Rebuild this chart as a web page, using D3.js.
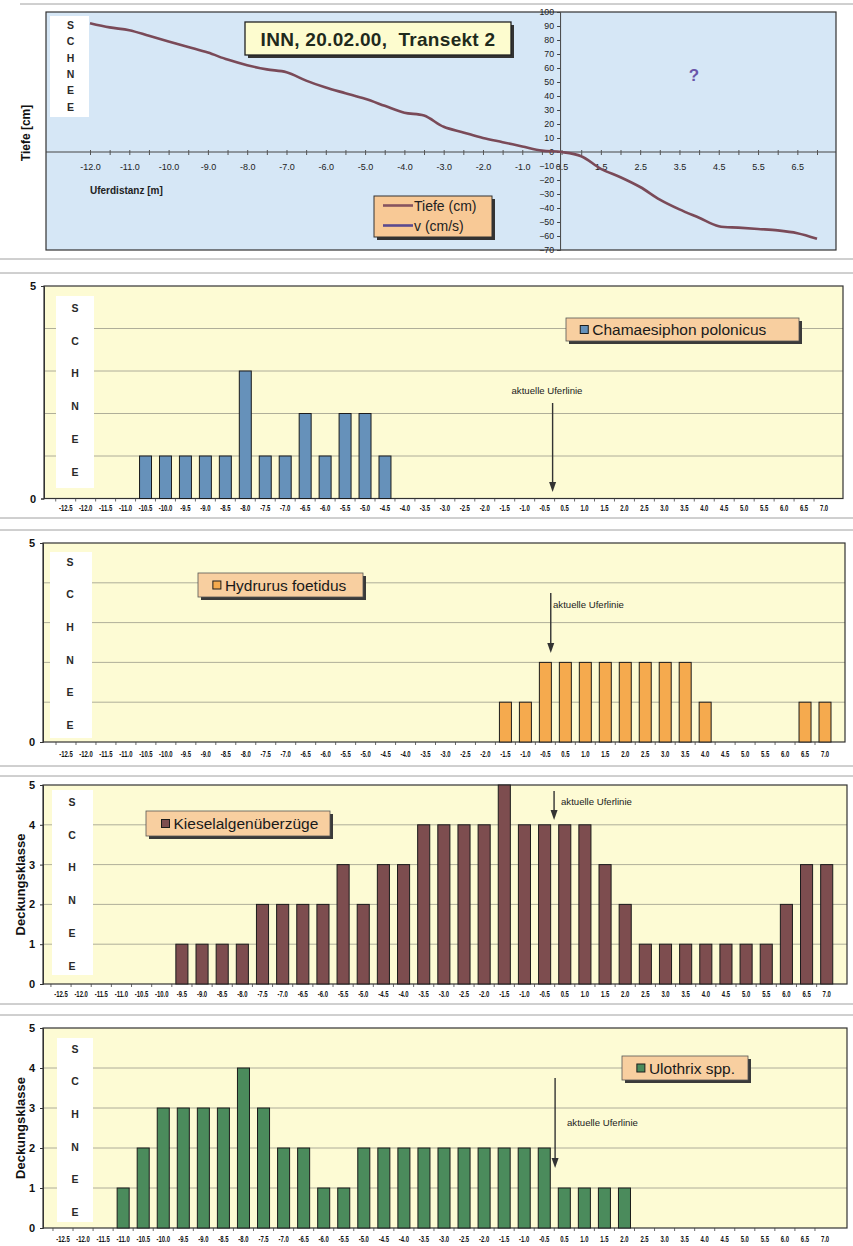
<!DOCTYPE html>
<html>
<head>
<meta charset="utf-8">
<script src="https://cdn.jsdelivr.net/npm/d3@7"></script>
<style>
  body { margin: 0; background: #fff; }
  svg { display: block; }
  text { font-family: "Liberation Sans", Arial, sans-serif; }
</style>
</head>
<body>
<svg id="chart" width="853" height="1246"></svg>
<script>
// ---- Depth profile (Transekt 2, INN 20.02.00) ----
const depthCategories = ["-12.0","-11.5","-11.0","-10.5","-10.0","-9.5","-9.0","-8.5","-8.0","-7.5",
  "-7.0","-6.5","-6.0","-5.5","-5.0","-4.5","-4.0","-3.5","-3.0","-2.5","-2.0","-1.5","-1.0","-0.5",
  "0.5","1.0","1.5","2.0","2.5","3.0","3.5","4.0","4.5","5.0","5.5","6.0","6.5","7.0"];
const depthValues = [92, 89, 87, 83, 79, 75, 71, 66, 62, 59,
  57, 51, 46, 42, 38, 33, 28, 26, 18, 14, 10, 7, 4, 1,
  0, -3, -12, -18, -25, -34, -41, -47, -53, -54, -55, -56, -58, -62];
const depthTickLabels = ["-12.0","-11.0","-10.0","-9.0","-8.0","-7.0","-6.0","-5.0","-4.0","-3.0",
  "-2.0","-1.0","0.5","1.5","2.5","3.5","4.5","5.5","6.5"];
const depthAxisTicks = [100, 90, 80, 70, 60, 50, 40, 30, 20, 10, 0, -10, -20, -30, -40, -50, -60, -70];
const profileSeries = ["Tiefe (cm)", "v (cm/s)"];

// ---- Coverage classes per distance class ----
const distanceClasses = ["-12.5","-12.0","-11.5","-11.0","-10.5","-10.0","-9.5","-9.0","-8.5","-8.0",
  "-7.5","-7.0","-6.5","-6.0","-5.5","-5.0","-4.5","-4.0","-3.5","-3.0","-2.5","-2.0","-1.5","-1.0",
  "-0.5","0.5","1.0","1.5","2.0","2.5","3.0","3.5","4.0","4.5","5.0","5.5","6.0","6.5","7.0"];
const chamaesiphon = [0,0,0,0,1,1,1,1,1,3,1,1,2,1,2,2,1,0,0,0,0,0,0,0,0,0,0,0,0,0,0,0,0,0,0,0,0,0,0];
const hydrurus     = [0,0,0,0,0,0,0,0,0,0,0,0,0,0,0,0,0,0,0,0,0,0,1,1,2,2,2,2,2,2,2,2,1,0,0,0,0,1,1];
const kieselalgen  = [0,0,0,0,0,0,1,1,1,1,2,2,2,2,3,2,3,3,4,4,4,4,5,4,4,4,4,3,2,1,1,1,1,1,1,1,2,3,3];
const ulothrix     = [0,0,0,1,2,3,3,3,3,4,3,2,2,1,1,2,2,2,2,2,2,2,2,2,2,1,1,1,1,0,0,0,0,0,0,0,0,0,0];
const taxa = ["Chamaesiphon polonicus", "Hydrurus foetidus", "Kieselalgenüberzüge", "Ulothrix spp."];
const coverTicksShort = [0, 5];
const coverTicksFull = [0, 1, 2, 3, 4, 5];
const snowLetters = ["S", "C", "H", "N", "E", "E"];

const svg = d3.select("#chart");

// faint borders of the individual chart areas
[[20, 4], [0, 259], [0, 273], [0, 518], [0, 530], [0, 766], [0, 776], [0, 1004], [0, 1015]].forEach(([x0, y]) => {
  svg.append("line").attr("x1", x0).attr("x2", 853).attr("y1", y).attr("y2", y)
    .attr("stroke", "#555").attr("stroke-width", 1).attr("opacity", 0.55);
});

function snowBox(g, box) {
  g.append("rect").attr("x", box.x0).attr("y", box.y0)
    .attr("width", box.x1 - box.x0).attr("height", box.y1 - box.y0).attr("fill", "#fff");
  snowLetters.forEach((l, i) => {
    g.append("text").attr("x", box.cx).attr("y", box.first + i * box.gap)
      .attr("dy", "0.36em").attr("text-anchor", "middle")
      .attr("font-size", 10.5).attr("font-weight", "bold").attr("fill", "#2a2a2a").text(l);
  });
}

// ================= Depth profile =================
(function drawProfile() {
  const P = { left: 46, right: 836, top: 12, bottom: 250 };
  const g = svg.append("g");
  const x = d3.scalePoint().domain(depthCategories).range([90, 817]);
  const y = d3.scaleLinear().domain([-70, 100]).range([P.bottom, P.top]);

  g.append("rect").attr("x", P.left).attr("y", P.top)
    .attr("width", P.right - P.left).attr("height", P.bottom - P.top)
    .attr("fill", "#d6e7f6").attr("stroke", "#333").attr("stroke-width", 1.2);

  snowBox(g, { x0: 50, x1: 89, y0: 16, y1: 117, cx: 70.5, first: 25, gap: 16.4 });

  // zero line (category axis)
  g.append("line").attr("x1", P.left).attr("x2", P.right).attr("y1", y(0)).attr("y2", y(0))
    .attr("stroke", "#444").attr("stroke-width", 1);
  const xAxis = g.append("g").attr("transform", `translate(0,${y(0)})`)
    .call(d3.axisBottom(x).tickValues(depthCategories).tickSize(3)
      .tickFormat(d => depthTickLabels.includes(d) ? d : ""));
  xAxis.select(".domain").remove();
  xAxis.selectAll("line").attr("stroke", "#555").attr("y1", -2);
  xAxis.selectAll("text").attr("y", 12).attr("dy", "0.71em")
    .attr("font-size", 9).attr("fill", "#222").attr("font-family", "Liberation Sans, Arial, sans-serif");

  // value axis sits on the 0.5 category
  const yx = x("0.5") - 1.5;
  const yAxis = g.append("g").attr("transform", `translate(${yx},0)`)
    .call(d3.axisLeft(y).tickValues(depthAxisTicks).tickSize(3).tickPadding(3));
  yAxis.select(".domain").attr("stroke", "#444");
  yAxis.selectAll("line").attr("stroke", "#444");
  yAxis.selectAll("text").attr("font-size", 8.8).attr("fill", "#222")
    .attr("font-family", "Liberation Sans, Arial, sans-serif");

  // depth line
  const line = d3.line().x((d, i) => x(depthCategories[i])).y(d => y(d))
    .curve(d3.curveCatmullRom.alpha(0.5));
  g.append("path").datum(depthValues).attr("d", line)
    .attr("fill", "none").attr("stroke", "#7a4a58").attr("stroke-width", 2.6)
    .attr("stroke-linejoin", "round");

  // titles
  g.append("rect").attr("x", 248).attr("y", 25).attr("width", 266).attr("height", 33).attr("fill", "#333");
  g.append("rect").attr("x", 245).attr("y", 22).attr("width", 266).attr("height", 33)
    .attr("fill", "#fdfccf").attr("stroke", "#222").attr("stroke-width", 1.3);
  g.append("text").attr("x", 378).attr("y", 39).attr("dy", "0.36em").attr("text-anchor", "middle")
    .attr("font-size", 19).attr("font-weight", "bold").attr("fill", "#1f2a1c")
    .attr("letter-spacing", 0.3).style("white-space", "pre")
    .text("INN, 20.02.00,  Transekt 2");

  g.append("text").attr("x", 694).attr("y", 75).attr("dy", "0.36em").attr("text-anchor", "middle")
    .attr("font-size", 17).attr("font-weight", "bold").attr("fill", "#6a55a8").text("?");

  g.append("text").attr("transform", "translate(26,133) rotate(-90)").attr("text-anchor", "middle")
    .attr("dy", "0.36em").attr("font-size", 12).attr("font-weight", "bold").attr("fill", "#111")
    .text("Tiefe [cm]");
  g.append("text").attr("x", 90).attr("y", 190).attr("dy", "0.36em")
    .attr("font-size", 10).attr("font-weight", "bold").attr("fill", "#222").text("Uferdistanz [m]");

  // legend
  const L = { x: 374, y: 196, w: 118, h: 41 };
  g.append("rect").attr("x", L.x + 3).attr("y", L.y + 3).attr("width", L.w).attr("height", L.h).attr("fill", "#333");
  g.append("rect").attr("x", L.x).attr("y", L.y).attr("width", L.w).attr("height", L.h)
    .attr("fill", "#f8c996").attr("stroke", "#333").attr("stroke-width", 1);
  const lineColors = ["#86545f", "#5b4a8f"];
  profileSeries.forEach((s, i) => {
    const cy = L.y + 9.5 + i * 20;
    g.append("line").attr("x1", L.x + 9).attr("x2", L.x + 39).attr("y1", cy).attr("y2", cy)
      .attr("stroke", lineColors[i]).attr("stroke-width", 2.6);
    g.append("text").attr("x", L.x + 40).attr("y", cy).attr("dy", "0.36em")
      .attr("font-size", 14).attr("fill", "#222").text(s);
  });
})();

// ================= Coverage panels =================
const panels = [
  { values: chamaesiphon, name: taxa[0], color: "#6691ba",
    left: 44, right: 843, top: 286, bottom: 498.5, c0: 65.7, cN: 824, labelY: 505,
    ticks: coverTicksShort, yTitle: false,
    snow: { x0: 56, x1: 94, y0: 296, y1: 488, cx: 75, first: 308, gap: 32.8 },
    legend: { x: 566, y: 318, w: 233, h: 23 },
    arrow: { f: 0.4, y1: 403, y2: 492, tx: 547, ty: 391, anchor: "middle" } },
  { values: hydrurus, name: taxa[1], color: "#f5aa4e",
    left: 43, right: 845, top: 543, bottom: 742, c0: 66, cN: 825, labelY: 751,
    ticks: coverTicksShort, yTitle: false,
    snow: { x0: 50, x1: 92, y0: 552, y1: 738, cx: 70, first: 562, gap: 32.6 },
    legend: { x: 198, y: 573, w: 165, h: 24 },
    arrow: { f: 0.27, y1: 593, y2: 653, tx: 553, ty: 605, anchor: "start" } },
  { values: kieselalgen, name: taxa[2], color: "#7d4d4f",
    left: 43, right: 847, top: 785, bottom: 984, c0: 61, cN: 826.7, labelY: 991,
    ticks: coverTicksFull, yTitle: true,
    snow: { x0: 52, x1: 93, y0: 790, y1: 975, cx: 72, first: 802, gap: 32.8 },
    legend: { x: 146, y: 811, w: 184, h: 25 },
    arrow: { f: 0.47, y1: 791, y2: 820, tx: 561, ty: 802, anchor: "start" } },
  { values: ulothrix, name: taxa[3], color: "#4b8b5c",
    left: 43, right: 847, top: 1028, bottom: 1228, c0: 63, cN: 825, labelY: 1236,
    ticks: coverTicksFull, yTitle: true,
    snow: { x0: 57, x1: 93, y0: 1038, y1: 1222, cx: 75, first: 1049, gap: 32.6 },
    legend: { x: 622, y: 1056, w: 126, h: 24 },
    arrow: { f: 0.54, y1: 1078, y2: 1168, tx: 567, ty: 1123, anchor: "start" } }
];

panels.forEach(p => {
  const g = svg.append("g");
  const step = (p.cN - p.c0) / (distanceClasses.length - 1);
  const x = d3.scaleBand().domain(distanceClasses)
    .range([p.c0 - step / 2, p.cN + step / 2]).paddingInner(0.4).paddingOuter(0.2);
  const y = d3.scaleLinear().domain([0, 5]).range([p.bottom, p.top]);

  g.append("rect").attr("x", p.left).attr("y", p.top)
    .attr("width", p.right - p.left).attr("height", p.bottom - p.top).attr("fill", "#fdfbd4");

  // horizontal gridlines
  g.append("g").selectAll("line").data([1, 2, 3, 4]).join("line")
    .attr("x1", p.left).attr("x2", p.right).attr("y1", d => y(d)).attr("y2", d => y(d))
    .attr("stroke", "#9a9a8a").attr("stroke-width", 0.8);

  snowBox(g, p.snow);

  // frame
  g.append("rect").attr("x", p.left).attr("y", p.top)
    .attr("width", p.right - p.left).attr("height", p.bottom - p.top)
    .attr("fill", "none").attr("stroke", "#333").attr("stroke-width", 1.2);

  // bars
  g.append("g").selectAll("rect").data(p.values.map((v, i) => ({ k: distanceClasses[i], v })).filter(d => d.v > 0))
    .join("rect")
    .attr("x", d => x(d.k)).attr("width", x.bandwidth())
    .attr("y", d => y(d.v)).attr("height", d => y(0) - y(d.v))
    .attr("fill", p.color).attr("stroke", "#1c1c1c").attr("stroke-width", 1);

  // category axis
  const xa = g.append("g").attr("transform", `translate(0,${p.bottom})`)
    .call(d3.axisBottom(x).tickSize(0).tickPadding(0));
  xa.select(".domain").remove();
  xa.selectAll("text").attr("y", p.labelY - p.bottom).attr("dy", "0.71em")
    .attr("font-size", 9).attr("font-weight", "bold").attr("fill", "#111")
    .attr("font-family", "Liberation Sans, Arial, sans-serif")
    .attr("transform", "scale(0.66,1)");
  // small separators between categories
  g.append("g").selectAll("line").data(distanceClasses).join("line")
    .attr("x1", d => x(d) - x.step() * 0.2).attr("x2", d => x(d) - x.step() * 0.2)
    .attr("y1", p.bottom).attr("y2", p.bottom + 3).attr("stroke", "#444").attr("stroke-width", 0.8);

  // value axis
  const ya = g.append("g").attr("transform", `translate(${p.left},0)`)
    .call(d3.axisLeft(y).tickValues(p.ticks).tickSize(3).tickPadding(5).tickFormat(d3.format("d")));
  ya.select(".domain").attr("stroke", "#333");
  ya.selectAll("line").attr("stroke", "#333");
  ya.selectAll("text").attr("font-size", 11).attr("font-weight", "bold").attr("fill", "#111")
    .attr("font-family", "Liberation Sans, Arial, sans-serif");

  if (p.yTitle) {
    g.append("text").attr("transform", `translate(20,${(p.top + p.bottom) / 2}) rotate(-90)`)
      .attr("text-anchor", "middle").attr("dy", "0.36em").attr("fill", "#111")
      .attr("font-size", 13).attr("font-weight", "bold").text("Deckungsklasse");
  }

  // legend
  const L = p.legend;
  g.append("rect").attr("x", L.x + 3).attr("y", L.y + 3).attr("width", L.w).attr("height", L.h).attr("fill", "#3a3a3a");
  g.append("rect").attr("x", L.x).attr("y", L.y).attr("width", L.w).attr("height", L.h)
    .attr("fill", "#f8cfa0").attr("stroke", "#555").attr("stroke-width", 0.8);
  g.append("rect").attr("x", L.x + L.h * 0.62).attr("y", L.y + L.h / 2 - 4)
    .attr("width", 8).attr("height", 8).attr("fill", p.color).attr("stroke", "#1c1c1c").attr("stroke-width", 1);
  g.append("text").attr("x", L.x + L.h * 0.62 + 12).attr("y", L.y + L.h / 2).attr("dy", "0.36em")
    .attr("font-size", 15.5).attr("fill", "#1a1a1a").text(p.name);

  // current shoreline marker
  const A = p.arrow;
  const ax = x("-0.5") + x.bandwidth() / 2 + A.f * x.step();
  g.append("line").attr("x1", ax).attr("x2", ax).attr("y1", A.y1).attr("y2", A.y2 - 8)
    .attr("stroke", "#333").attr("stroke-width", 1.4);
  g.append("path").attr("d", `M${ax - 3.5},${A.y2 - 10}L${ax + 3.5},${A.y2 - 10}L${ax},${A.y2}Z`).attr("fill", "#333");
  g.append("text").attr("x", A.tx).attr("y", A.ty).attr("dy", "0.36em").attr("text-anchor", A.anchor)
    .attr("font-size", 9.6).attr("fill", "#222").text("aktuelle Uferlinie");
});
</script>
</body>
</html>
